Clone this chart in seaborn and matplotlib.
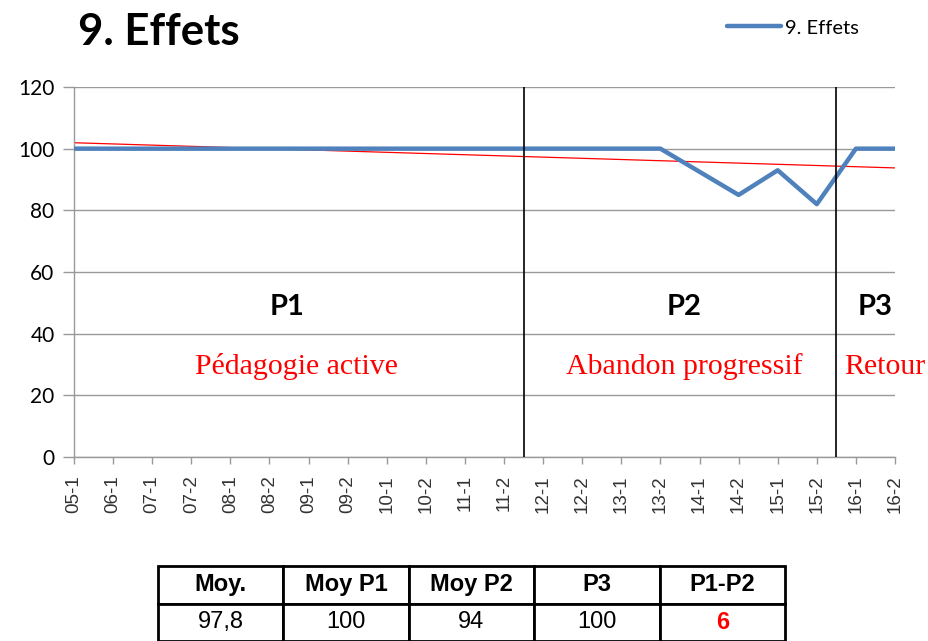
import numpy as np
import pandas as pd
import seaborn as sns
import matplotlib.pyplot as plt

# semesters on the x axis
semestres = ['05-1', '06-1', '07-1', '07-2', '08-1', '08-2', '09-1', '09-2',
             '10-1', '10-2', '11-1', '11-2', '12-1', '12-2', '13-1', '13-2',
             '14-1', '14-2', '15-1', '15-2', '16-1', '16-2']
effets = [100, 100, 100, 100, 100, 100, 100, 100, 100, 100, 100, 100,
          100, 100, 100, 100, 92.5, 85, 93, 82, 100, 100]

# period boundaries (between semesters) and labels
bornes = [11.5, 19.5]
periodes = ['P1', 'P2', 'P3']
periodes_x = [5.45, 15.6, 20.5]
sous_titres = ['Pédagogie active', 'Abandon progressif', 'Retour']
sous_titres_x = [5.7, 15.6, 20.75]

# summary table
table_entetes = ['Moy.', 'Moy P1', 'Moy P2', 'P3', 'P1-P2']
table_valeurs = ['97,8', '100', '94', '100', '6']

df = pd.DataFrame({'pos': np.arange(len(semestres)), 'sem': semestres, 'effets': effets})

sns.set_style('white')
plt.rcParams['font.family'] = ['Lato', 'DejaVu Sans']
plt.rcParams['text.color'] = 'black'
plt.rcParams['ytick.labelcolor'] = 'black'

fig = plt.figure(figsize=(9.29, 6.41), dpi=100)
ax = fig.add_axes([74 / 929, 1 - 457 / 641, (895 - 74) / 929, (457 - 87) / 641])

bleu = '#4F81BD'
sns.lineplot(data=df, x='pos', y='effets', color=bleu, linewidth=3.2, ax=ax,
             label='9. Effets', zorder=3)
sns.regplot(data=df, x='pos', y='effets', ci=None, scatter=False, truncate=True,
            line_kws={'color': 'red', 'linewidth': 0.9, 'zorder': 2}, ax=ax)

for b in bornes:
    ax.axvline(b, color='black', linewidth=1.2, zorder=4)

ax.set_xlim(0, len(semestres) - 1)
ax.set_ylim(0, 120)
ax.set_yticks(range(0, 121, 20))
ax.yaxis.grid(True, color='#999999', linewidth=1)
ax.set_xticks(df['pos'], semestres, rotation=90, fontsize=13.5,
              family='Liberation Sans', color='#333333')
ax.tick_params(axis='y', labelsize=15, length=8, width=1, color='#999999',
               labelcolor='black', direction='out', pad=6, left=True)
ax.tick_params(axis='x', length=5, width=1, color='#999999', direction='out',
               bottom=True, pad=8)
ax.set_xlabel('')
ax.set_ylabel('')
for side in ['top', 'right']:
    ax.spines[side].set_visible(False)
for side in ['left', 'bottom']:
    ax.spines[side].set_color('#999999')
    ax.spines[side].set_linewidth(1)

for lab, x in zip(periodes, periodes_x):
    ax.text(x, 48.5, lab, ha='center', va='center', fontsize=21, fontweight='bold')
for lab, x in zip(sous_titres, sous_titres_x):
    ax.text(x, 29.3, lab, ha='center', va='center', fontsize=21.5, color='red',
            family='Liberation Serif', clip_on=False)

fig.text(78 / 929, 1 - 32 / 641, '9. Effets', fontsize=31.5, fontweight='bold',
         ha='left', va='center')

ax.legend(loc='center left', bbox_to_anchor=(727 / 929, 1 - 28 / 641),
          bbox_transform=fig.transFigure, frameon=False, fontsize=14.5,
          handlelength=2.7, handletextpad=0.2, borderaxespad=0, borderpad=0)

# summary table below the chart
tax = fig.add_axes([158 / 929, 0, (785 - 158) / 929, (641 - 566) / 641])
tax.axis('off')
tab = tax.table(cellText=[table_entetes, table_valeurs], cellLoc='center',
                bbox=[0, 0, 1, 1])
tab.auto_set_font_size(False)
for (r, c), cell in tab.get_celld().items():
    cell.set_linewidth(2)
    cell.set_edgecolor('black')
    txt = cell.get_text()
    txt.set_fontsize(17)
    txt.set_family('Liberation Sans')
    if r == 0:
        txt.set_fontweight('bold')
    if r == 1 and c == 4:
        txt.set_color('red')
        txt.set_fontweight('bold')

fig.savefig('out.png', dpi=100)
